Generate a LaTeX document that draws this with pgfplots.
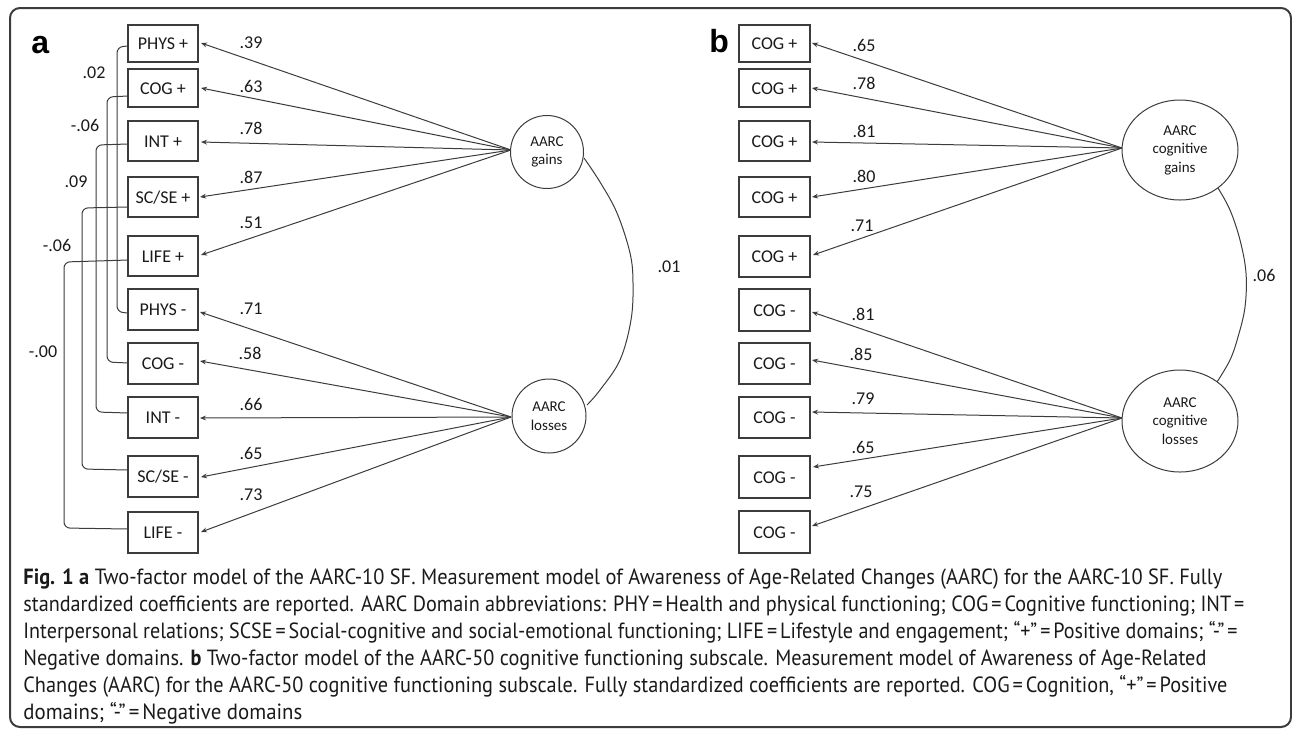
\documentclass[border=0pt]{standalone}
\usepackage{fontspec}
\usepackage{graphicx}
\usepackage{pgfplots}
\pgfplotsset{compat=1.18}
\usetikzlibrary{arrows.meta}
\setmainfont{Carlito}
\newfontfamily\capfont{PT Sans}
\newfontfamily\panelfont{Liberation Sans}
\definecolor{ln}{HTML}{3C3C3C}
\definecolor{tx}{HTML}{1A1A1A}
\pgfplotsset{
  box/.style={draw=ln, line width=0.7pt, mark=none, line join=miter},
  arr/.style={draw=ln, line width=0.5pt, mark=none, -{Stealth[length=3pt,width=2.4pt]}},
  cor/.style={draw=ln, line width=0.5pt, mark=none, rounded corners=3pt},
  arc/.style={draw=ln, line width=0.5pt, mark=none, smooth, tension=0.6},
}
\newsavebox\capbox
\newcommand\ibox[7]{%
  \addplot[box] coordinates {(#1,#3) (#2,#3) (#2,#4) (#1,#4) (#1,#3) (#2,#3)};
  \node[font=\fontsize{9}{10}\selectfont, text=tx, anchor=base, inner sep=0pt] at (axis cs:#5,#6) {#7};
}
\newcommand\lab[3]{\node[font=\fontsize{9}{10}\selectfont, text=tx, inner sep=0pt] at (axis cs:#1,#2) {#3};}
% caption line: baseline y (px), target width (px), text
\newcommand\capline[3]{\node[anchor=base west, font=\capfont\fontsize{11}{12}\selectfont, text=tx, inner sep=0pt] at (axis cs:23,#1) {\sbox\capbox{#3}\pgfmathsetmacro\capr{#2*0.5/\the\wd\capbox}\scalebox{\capr}[1]{\usebox\capbox}};}
\newcommand\eq{\hspace{1.6pt}=\hspace{1.6pt}}
\begin{document}
\begin{tikzpicture}
\begin{axis}[hide axis, scale only axis, width=646pt, height=365pt,
  xmin=0, xmax=1292, ymin=0, ymax=730, y dir=reverse, clip=false]
\path (axis cs:0,0) rectangle (axis cs:1292,730);
% frame
\draw[line width=1pt, draw=ln, rounded corners=5pt] (axis cs:10,8) rectangle (axis cs:1291,727);
% panel labels
\node[font=\panelfont\bfseries\fontsize{16}{18}\selectfont, anchor=base west, inner sep=0pt] at (axis cs:31,53) {a};
\node[font=\panelfont\bfseries\fontsize{16}{18}\selectfont, anchor=base west, inner sep=0pt] at (axis cs:709,52) {b};

% ---------- panel a: indicator boxes ----------
\ibox{128}{198}{25}{62}{163}{49.5}{PHYS +}
\ibox{128}{198}{69}{107}{163}{94}{COG +}
\ibox{128}{198}{121}{161}{163}{147}{INT +}
\ibox{128}{198}{177}{217}{163}{203}{SC/SE +}
\ibox{128}{198}{236}{276}{163}{262}{LIFE +}
\ibox{128}{198}{289}{330}{163}{315.5}{PHYS -}
\ibox{128}{198}{343}{384}{163}{369.5}{COG -}
\ibox{128}{198}{397}{438}{163}{423.5}{INT -}
\ibox{128}{198}{456}{497}{163}{482.5}{SC/SE -}
\ibox{128}{198}{512}{553}{163}{538.5}{LIFE -}

% panel a loadings
\addplot[arr] coordinates {(511,150) (201,43)};
\addplot[arr] coordinates {(511,150) (201,88)};
\addplot[arr] coordinates {(511,150) (201,142)};
\addplot[arr] coordinates {(511,150) (200,197)};
\addplot[arr] coordinates {(511,150) (201,255)};
\addplot[arr] coordinates {(511,417) (200,312)};
\addplot[arr] coordinates {(511,417) (200,361)};
\addplot[arr] coordinates {(511,417) (200,418)};
\addplot[arr] coordinates {(511,417) (201,477)};
\addplot[arr] coordinates {(511,417) (201,532)};

% panel a residual correlations
\addplot[cor] coordinates {(128,46) (117,47) (117,312) (128,313)};
\addplot[cor] coordinates {(128,96) (107,97) (107,362) (128,363)};
\addplot[cor] coordinates {(128,144) (96,145) (96,412) (128,413)};
\addplot[cor] coordinates {(128,207) (82,208) (82,469) (128,470)};
\addplot[cor] coordinates {(128,260) (64,262) (64,528) (128,529)};

% panel a factor correlation
\addplot[arc] coordinates {(584,158) (600,182) (617,213) (630,253) (633,283) (631,320) (620,360) (600,390) (587,405)};

% panel a latent factors
\draw[draw=ln, line width=0.5pt, fill=white] (axis cs:547,152) circle[radius=18.25pt];
\draw[draw=ln, line width=0.5pt, fill=white] (axis cs:549,416) circle[radius=18.5pt];
\node[align=center, font=\fontsize{7.5}{9.25}\selectfont, text=tx] at (axis cs:547,152) {AARC\\gains};
\node[align=center, font=\fontsize{7.5}{9.25}\selectfont, text=tx] at (axis cs:549,416) {AARC\\losses};

% panel a labels
\lab{251}{43}{.39}
\lab{251}{86}{.63}
\lab{251}{128}{.78}
\lab{251}{177}{.87}
\lab{251}{223}{.51}
\lab{251}{309}{.71}
\lab{250}{353}{.58}
\lab{251}{404}{.66}
\lab{251}{453}{.65}
\lab{251}{495}{.73}
\lab{94}{73}{.02}
\lab{85}{125}{-.06}
\lab{76}{182}{.09}
\lab{57}{245}{-.06}
\lab{43}{352}{-.00}
\lab{669}{267}{.01}

% ---------- panel b ----------
\ibox{739}{810}{25}{62}{774.5}{49.5}{COG +}
\ibox{739}{810}{69}{107}{774.5}{94}{COG +}
\ibox{739}{810}{121}{161}{774.5}{147}{COG +}
\ibox{739}{810}{177}{217}{774.5}{203}{COG +}
\ibox{739}{810}{236}{277}{774.5}{262.5}{COG +}
\ibox{739}{810}{289}{331}{774.5}{316}{COG -}
\ibox{739}{810}{343}{384}{774.5}{369.5}{COG -}
\ibox{739}{810}{397}{438}{774.5}{423.5}{COG -}
\ibox{739}{810}{456}{498}{774.5}{483}{COG -}
\ibox{739}{810}{511}{553}{774.5}{538}{COG -}

\addplot[arr] coordinates {(1122,148) (812,43)};
\addplot[arr] coordinates {(1122,148) (812,88)};
\addplot[arr] coordinates {(1122,148) (812,142)};
\addplot[arr] coordinates {(1122,148) (812,197)};
\addplot[arr] coordinates {(1122,148) (813,255)};
\addplot[arr] coordinates {(1122,418) (812,312)};
\addplot[arr] coordinates {(1122,418) (812,360)};
\addplot[arr] coordinates {(1122,418) (812,412)};
\addplot[arr] coordinates {(1122,418) (813,467)};
\addplot[arr] coordinates {(1122,418) (812,526)};

\addplot[arc] coordinates {(1218,188) (1230,210) (1240,240) (1246,273) (1245,307) (1238,337) (1230,360) (1217,382)};

\draw[draw=ln, line width=0.5pt, fill=white] (axis cs:1180,150) ellipse[x radius=29pt, y radius=25pt];
\draw[draw=ln, line width=0.5pt, fill=white] (axis cs:1180,421) ellipse[x radius=29pt, y radius=25.5pt];
\node[align=center, font=\fontsize{7.5}{9.25}\selectfont, text=tx] at (axis cs:1180,150) {AARC\\cognitive\\gains};
\node[align=center, font=\fontsize{7.5}{9.25}\selectfont, text=tx] at (axis cs:1180,421) {AARC\\cognitive\\losses};

\lab{864}{45}{.65}
\lab{864}{83}{.78}
\lab{864}{131}{.81}
\lab{864}{176}{.80}
\lab{862}{226}{.71}
\lab{863}{314}{.81}
\lab{861}{354}{.85}
\lab{863}{399}{.79}
\lab{863}{447}{.65}
\lab{861}{492}{.75}
\lab{1264}{275}{.06}

% ---------- caption ----------
\capline{584}{1199}{\textbf{Fig. 1} \textbf{a} Two-factor model of the AARC-10 SF. Measurement model of Awareness of Age-Related Changes (AARC) for the AARC-10 SF. Fully}
\capline{611}{1224}{standardized coefficients are reported. AARC Domain abbreviations: PHY\eq Health and physical functioning; COG\eq Cognitive functioning; INT\eq}
\capline{638}{1217}{Interpersonal relations; SCSE\eq Social-cognitive and social-emotional functioning; LIFE\eq Lifestyle and engagement; “+”\eq Positive domains; “-”\eq}
\capline{665}{1183}{Negative domains. \textbf{b} Two-factor model of the AARC-50 cognitive functioning subscale. Measurement model of Awareness of Age-Related}
\capline{692}{1204}{Changes (AARC) for the AARC-50 cognitive functioning subscale. Fully standardized coefficients are reported. COG\eq Cognition, “+”\eq Positive}
\capline{719}{279}{domains; “-”\eq Negative domains}
\end{axis}
\end{tikzpicture}
\end{document}
